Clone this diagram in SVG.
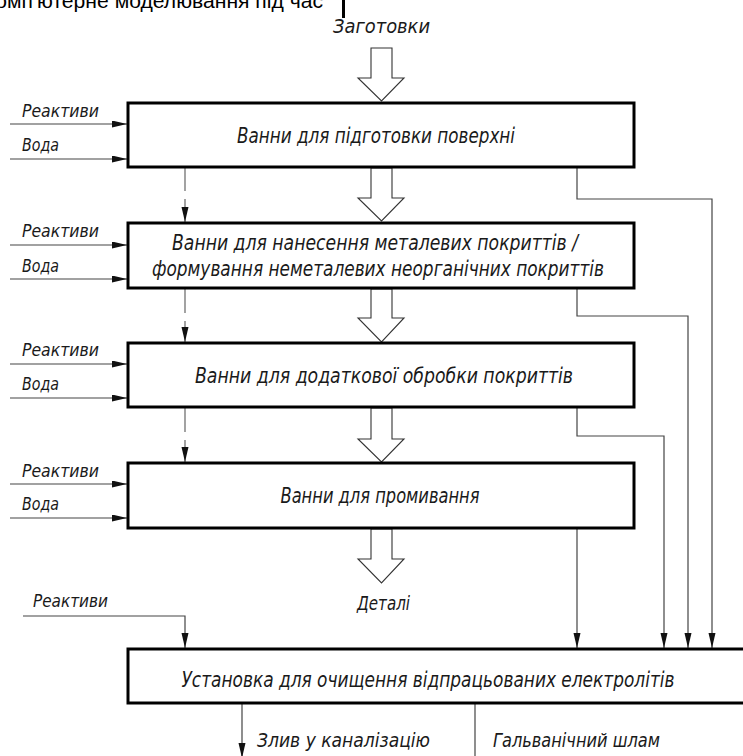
<svg xmlns="http://www.w3.org/2000/svg" width="743" height="756" viewBox="0 0 743 756">
<style>
.t{font-family:'Liberation Sans Narrow','DejaVu Sans Condensed','Liberation Sans',sans-serif;font-style:italic;fill:#1a1a1a}
.bt{font-size:21px;text-anchor:middle}
.lt{font-size:17px}
.box{fill:#fff;stroke:#000;stroke-width:3}
.big{fill:#fff;stroke:#333;stroke-width:1.1}
.ln{fill:none;stroke:#444;stroke-width:1.2}
.dl{fill:none;stroke:#666;stroke-width:1.2}
</style>
<defs>
<marker id="ah" markerUnits="userSpaceOnUse" markerWidth="16" markerHeight="8" refX="15" refY="3.5" orient="auto">
<path d="M0,0 L15,3.5 L0,7 z" fill="#111"/>
</marker>
</defs>

<text x="323" y="8" style="font-family:'Liberation Sans',sans-serif;font-size:20px;text-anchor:end;fill:#000" textLength="340" lengthAdjust="spacingAndGlyphs">Комп'ютерне моделювання під час</text>
<rect x="342" y="0" width="3" height="18" fill="#000"/>

<g id="connectors">
  <polygon class="big" points="371,48 392,48 392,78 404,78 381.5,101 358,78 371,78"/>
  <polygon class="big" points="371,168 392,168 392,198 404,198 381.5,221 358,198 371,198"/>
  <polygon class="big" points="371,289 392,289 392,318 404,318 381.5,342 358,318 371,318"/>
  <polygon class="big" points="371,408 392,408 392,439 404,439 381.5,462 358,439 371,439"/>
  <polygon class="big" points="371,529 392,529 392,559 404,559 381.5,583 358,559 371,559"/>

  <path class="ln" d="M10,124 H127" marker-end="url(#ah)"/>
  <path class="ln" d="M10,159 H127" marker-end="url(#ah)"/>
  <path class="ln" d="M10,245 H127" marker-end="url(#ah)"/>
  <path class="ln" d="M10,279 H127" marker-end="url(#ah)"/>
  <path class="ln" d="M10,364 H127" marker-end="url(#ah)"/>
  <path class="ln" d="M10,398 H127" marker-end="url(#ah)"/>
  <path class="ln" d="M10,484 H127" marker-end="url(#ah)"/>
  <path class="ln" d="M10,518 H127" marker-end="url(#ah)"/>

  <path class="dl" d="M185,168 V191 M185,199 V222" marker-end="url(#ah)"/>
  <path class="dl" d="M185,289 V313 M185,321 V342" marker-end="url(#ah)"/>
  <path class="dl" d="M185,408 V432 M185,440 V462" marker-end="url(#ah)"/>

  <path class="ln" d="M577,168 V199 H712 V648" marker-end="url(#ah)"/>
  <path class="ln" d="M577,289 V316 H688 V648" marker-end="url(#ah)"/>
  <path class="ln" d="M577,408 V436 H664 V648" marker-end="url(#ah)"/>
  <path class="ln" d="M577,529 V648" marker-end="url(#ah)"/>

  <path class="ln" d="M23,616 H185 V648" marker-end="url(#ah)"/>
  <path class="ln" d="M242,704 V758" marker-end="url(#ah)"/>
  <path class="ln" d="M475,704 V756"/>
</g>

<text class="t" x="333" y="33" style="font-size:20px" textLength="97" lengthAdjust="spacingAndGlyphs">Заготовки</text>

<g id="bath1">
  <rect class="box" x="128" y="103" width="506" height="64"/>
  <text class="t bt" x="376" y="143" textLength="278" lengthAdjust="spacingAndGlyphs">Ванни для підготовки поверхні</text>
</g>
<g id="bath2">
  <rect class="box" x="128" y="223" width="506" height="65"/>
  <text class="t bt" x="375" y="250" textLength="406" lengthAdjust="spacingAndGlyphs">Ванни для нанесення металевих покриттів /</text>
  <text class="t bt" x="378" y="276" textLength="452" lengthAdjust="spacingAndGlyphs">формування неметалевих неорганічних покриттів</text>
</g>
<g id="bath3">
  <rect class="box" x="128" y="343" width="506" height="64"/>
  <text class="t bt" x="384" y="383" textLength="378" lengthAdjust="spacingAndGlyphs">Ванни для додаткової обробки покриттів</text>
</g>
<g id="bath4">
  <rect class="box" x="128" y="463" width="506" height="65"/>
  <text class="t bt" x="380" y="503" textLength="199" lengthAdjust="spacingAndGlyphs">Ванни для промивання</text>
</g>
<g id="cleaner">
  <rect class="box" x="128" y="649" width="640" height="54"/>
  <text class="t bt" x="428" y="687" textLength="493" lengthAdjust="spacingAndGlyphs">Установка для очищення відпрацьованих електролітів</text>
</g>

<g id="labels">
  <text class="t lt" x="22" y="117" textLength="77" lengthAdjust="spacingAndGlyphs">Реактиви</text>
  <text class="t lt" x="22" y="151" textLength="37" lengthAdjust="spacingAndGlyphs">Вода</text>
  <text class="t lt" x="22" y="237" textLength="77" lengthAdjust="spacingAndGlyphs">Реактиви</text>
  <text class="t lt" x="22" y="272" textLength="37" lengthAdjust="spacingAndGlyphs">Вода</text>
  <text class="t lt" x="22" y="356" textLength="77" lengthAdjust="spacingAndGlyphs">Реактиви</text>
  <text class="t lt" x="22" y="390" textLength="37" lengthAdjust="spacingAndGlyphs">Вода</text>
  <text class="t lt" x="22" y="477" textLength="77" lengthAdjust="spacingAndGlyphs">Реактиви</text>
  <text class="t lt" x="22" y="510" textLength="37" lengthAdjust="spacingAndGlyphs">Вода</text>
  <text class="t lt" x="33" y="607" textLength="75" lengthAdjust="spacingAndGlyphs">Реактиви</text>
  <text class="t" x="357" y="610" style="font-size:20px" textLength="53" lengthAdjust="spacingAndGlyphs">Деталі</text>
  <text class="t" x="257" y="747" style="font-size:20px" textLength="173" lengthAdjust="spacingAndGlyphs">Злив у каналізацію</text>
  <text class="t" x="493" y="747" style="font-size:20px" textLength="167" lengthAdjust="spacingAndGlyphs">Гальванічний шлам</text>
</g>
</svg>
